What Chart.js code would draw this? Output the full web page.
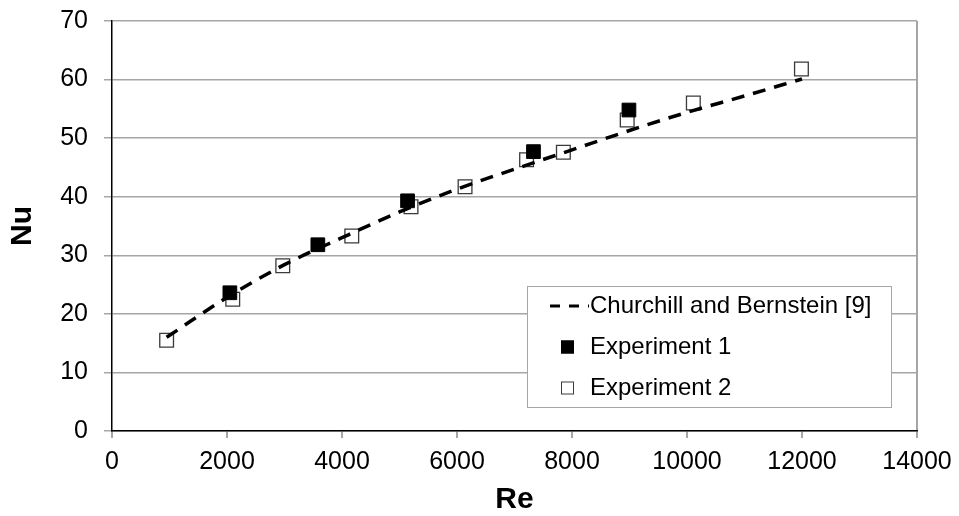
<!DOCTYPE html>
<html>
<head>
<meta charset="utf-8">
<script src="https://cdn.jsdelivr.net/npm/chart.js@4.4.1/dist/chart.umd.min.js"></script>
<style>
  html, body { margin: 0; padding: 0; background: #fff; }
  #wrap { width: 959px; height: 516px; position: relative; }
</style>
</head>
<body>
<div id="wrap"><canvas id="myChart"></canvas></div>
<script>
// Churchill and Bernstein correlation
const reCurve = [950, 2000, 3000, 4000, 5000, 6000, 7000, 8000, 9000, 10000, 11000, 12000];
const nuCurve = [16.0, 22.8, 28.4, 33.0, 37.4, 41.3, 44.7, 48.0, 51.3, 54.4, 57.2, 60.1];

// Experiment 1 (filled squares)
const re1 = [2050, 3580, 5140, 7330, 8990];
const nu1 = [23.6, 31.8, 39.3, 47.7, 54.8];

// Experiment 2 (open squares)
const re2 = [950, 2100, 2970, 4170, 5200, 6140, 7210, 7850, 8960, 10110, 11990];
const nu2 = [15.5, 22.5, 28.2, 33.3, 38.3, 41.7, 46.3, 47.6, 53.1, 56.0, 61.8];

const xTicks = [0, 2000, 4000, 6000, 8000, 10000, 12000, 14000];
const yTicks = [0, 10, 20, 30, 40, 50, 60, 70];

const seriesLabels = ['Churchill and Bernstein [9]', 'Experiment 1', 'Experiment 2'];

const toPts = (xs, ys) => xs.map((x, i) => ({ x: x, y: ys[i] }));

const FONT = '"Liberation Sans", Arial, sans-serif';

// legend drawn inside the plot area, lower right
const insideLegend = {
    id: 'insideLegend',
    afterDatasetsDraw(chart) {
        const ctx = chart.ctx;
        const area = chart.chartArea;
        const w = 364, h = 121;
        const x0 = area.right - 26 - w;
        const y0 = area.bottom - 24 - h;
        ctx.save();
        ctx.fillStyle = '#fff';
        ctx.fillRect(x0, y0, w, h);
        ctx.strokeStyle = '#a6a6a6';
        ctx.lineWidth = 1;
        ctx.strokeRect(x0 + 0.5, y0 + 0.5, w, h);
        ctx.font = '24px ' + FONT;
        ctx.textBaseline = 'middle';
        ctx.textAlign = 'left';
        chart.data.datasets.forEach((ds, i) => {
            const y = y0 + 20 + i * 41;
            if (ds.showLine) {
                ctx.save();
                ctx.setLineDash([10, 9]);
                ctx.lineWidth = 3;
                ctx.strokeStyle = ds.borderColor;
                ctx.beginPath();
                ctx.moveTo(x0 + 23, y);
                ctx.lineTo(x0 + 62, y);
                ctx.stroke();
                ctx.restore();
            } else {
                const s = 13;
                ctx.fillStyle = ds.backgroundColor;
                ctx.fillRect(x0 + 34, y - s / 2, s, s);
                ctx.strokeStyle = ds.borderColor;
                ctx.lineWidth = 1;
                ctx.strokeRect(x0 + 34.5, y - s / 2 + 0.5, s - 1, s - 1);
            }
            ctx.fillStyle = '#000';
            ctx.fillText(ds.label, x0 + 63, y);
        });
        ctx.restore();
    }
};

const ctx = document.getElementById('myChart');

new Chart(ctx, {
    type: 'scatter',
    data: {
        datasets: [{
            label: seriesLabels[0],
            data: toPts(reCurve, nuCurve),
            showLine: true,
            borderColor: '#000',
            borderWidth: 3.5,
            borderDash: [13, 9],
            pointRadius: 0,
            cubicInterpolationMode: 'monotone',
            fill: false
        }, {
            label: seriesLabels[1],
            data: toPts(re1, nu1),
            pointStyle: 'rect',
            pointRadius: 9.7,
            backgroundColor: '#000',
            borderColor: '#000',
            borderWidth: 1
        }, {
            label: seriesLabels[2],
            data: toPts(re2, nu2),
            pointStyle: 'rect',
            pointRadius: 9.7,
            backgroundColor: '#fff',
            borderColor: '#3a3a3a',
            borderWidth: 1.3
        }]
    },
    options: {
        responsive: true,
        maintainAspectRatio: false,
        animation: false,
        devicePixelRatio: 1,
        layout: { padding: { top: 21, right: 42, bottom: 0, left: 0 } },
        plugins: {
            legend: { display: false },
            tooltip: { enabled: false }
        },
        scales: {
            x: {
                type: 'linear',
                min: 0,
                max: 14000,
                afterBuildTicks: (scale) => { scale.ticks = xTicks.map(v => ({ value: v })); },
                afterFit: (scale) => {
                    scale.height = 85;
                    scale.paddingLeft = 0;
                    scale.paddingRight = 0;
                },
                border: { color: '#000', width: 1.5 },
                grid: {
                    drawOnChartArea: true,
                    color: (c) => (c.tick && c.tick.value === 14000) ? '#a6a6a6' : 'rgba(0,0,0,0)',
                    lineWidth: 2,
                    tickColor: '#a6a6a6',
                    tickLength: 7
                },
                ticks: {
                    autoSkip: false,
                    maxRotation: 0,
                    padding: 9,
                    color: '#000',
                    font: { family: FONT, size: 25 },
                    callback: (v) => String(v)
                },
                title: {
                    display: true,
                    text: 'Re',
                    color: '#000',
                    font: { family: FONT, size: 30, weight: 'bold', lineHeight: 1 },
                    padding: { top: 0, bottom: 1 }
                }
            },
            y: {
                type: 'linear',
                min: 0,
                max: 70,
                afterBuildTicks: (scale) => { scale.ticks = yTicks.map(v => ({ value: v })); },
                afterFit: (scale) => {
                    scale.width = 112;
                    scale.paddingTop = 0;
                    scale.paddingBottom = 0;
                },
                border: { color: '#000', width: 1.5 },
                grid: {
                    color: '#a6a6a6',
                    lineWidth: 1.5,
                    tickColor: '#a6a6a6',
                    tickLength: 8
                },
                ticks: {
                    padding: 16,
                    color: '#000',
                    font: { family: FONT, size: 25 },
                    callback: (v) => String(v)
                },
                title: {
                    display: true,
                    text: 'Nu',
                    color: '#000',
                    font: { family: FONT, size: 30, weight: 'bold', lineHeight: 1 },
                    padding: { top: 8, bottom: 0 }
                }
            }
        }
    },
    plugins: [insideLegend]
});
</script>
</body>
</html>
